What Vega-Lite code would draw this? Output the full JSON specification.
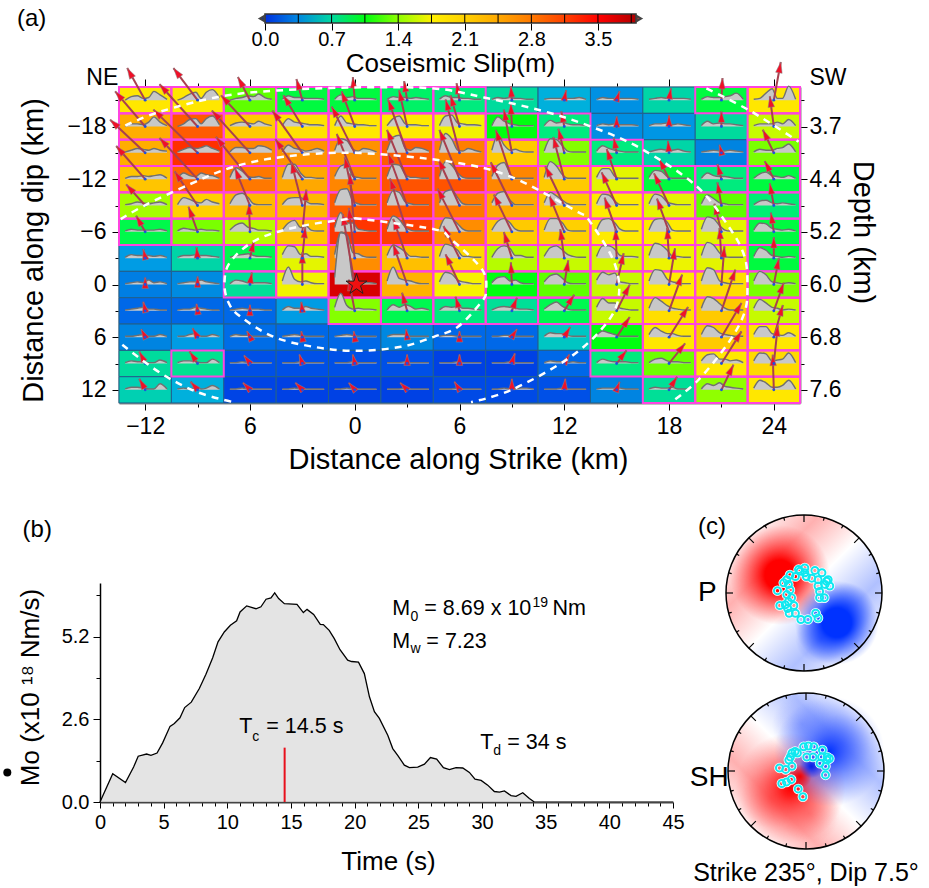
{"$schema":"https://vega.github.io/schema/vega-lite/v6.json","padding":0,"autosize":{"type":"none","contains":"padding"},"width":929,"height":888,"background":"white",
"config":{"view":{"stroke":null},"axis":{"labelFont":"Liberation Sans","titleFont":"Liberation Sans","labelColor":"#000","titleColor":"#000","tickColor":"#000","domainColor":"#000","grid":false,"titleFontWeight":"normal","labelFontSize":23,"titleFontSize":29,"titleBaseline":"middle","labelFlush":false},"text":{"font":"Liberation Sans","color":"#000"}},
"datasets":{
"cols":[{"s":-12,"xs":[-13.15,-12.8,-12.45,-12.1,-11.8,-11.5,-11.15,-10.75]},{"s":-9,"xs":[-10.15,-9.8,-9.45,-9.1,-8.8,-8.5,-8.15,-7.75]},{"s":-6,"xs":[-7.15,-6.8,-6.45,-6.1,-5.8,-5.5,-5.15,-4.75]},{"s":-3,"xs":[-4.15,-3.8,-3.45,-3.1,-2.8,-2.5,-2.15,-1.75]},{"s":0,"xs":[-1.15,-0.8,-0.45,-0.1,0.2,0.5,0.85,1.25]},{"s":3,"xs":[1.85,2.2,2.55,2.9,3.2,3.5,3.85,4.25]},{"s":6,"xs":[4.85,5.2,5.55,5.9,6.2,6.5,6.85,7.25]},{"s":9,"xs":[7.85,8.2,8.55,8.9,9.2,9.5,9.85,10.25]},{"s":12,"xs":[10.85,11.2,11.55,11.9,12.2,12.5,12.85,13.25]},{"s":15,"xs":[13.85,14.2,14.55,14.9,15.2,15.5,15.85,16.25]},{"s":18,"xs":[16.85,17.2,17.55,17.9,18.2,18.5,18.85,19.25]},{"s":21,"xs":[19.85,20.2,20.55,20.9,21.2,21.5,21.85,22.25]},{"s":24,"xs":[22.85,23.2,23.55,23.9,24.2,24.5,24.85,25.25]}],
"cells":[
{"s":-12,"d":-21,"v":1.85,"ax":-13.03,"ay":-24.66,"ang":-29,"y":[-21,-21.4,-21.5,-21.2,-21.3,-22,-21.6,-21.1]},
{"s":-9,"d":-21,"v":1.85,"ax":-10.38,"ay":-24.66,"ang":-37,"y":[-21,-21.3,-21.7,-21.9,-21.2,-21.9,-22.2,-21.3]},
{"s":-6,"d":-21,"v":1.2,"ax":-6.69,"ay":-23.63,"ang":-28,"y":[-21,-21.2,-21.3,-21.5,-21.4,-21.7,-21.3,-21.1]},
{"s":-3,"d":-21,"v":1,"ax":-3.34,"ay":-23.4,"ang":-16,"y":[-21.1,-21.5,-21.3,-21.3,-21.2,-21.2,-21.2,-21.1]},
{"s":0,"d":-21,"v":1,"ax":-0.11,"ay":-23.63,"ang":-5,"y":[-21.1,-21.6,-21.3,-21.4,-21.2,-21.2,-21.2,-21.1]},
{"s":3,"d":-21,"v":0.92,"ax":2.83,"ay":-23.18,"ang":-9,"y":[-21.1,-21.4,-21.3,-21.3,-21.2,-21.3,-21.2,-21.1]},
{"s":6,"d":-21,"v":0.85,"ax":5.83,"ay":-22.95,"ang":-10,"y":[-21.1,-21.5,-21.3,-21.3,-21.2,-21.2,-21.1,-21.1]},
{"s":9,"d":-21,"v":0.72,"ax":8.94,"ay":-22.6,"ang":-4,"y":[-21.1,-21.3,-21.2,-21.3,-21.2,-21.2,-21.1,-21.1]},
{"s":12,"d":-21,"v":0.5,"ax":12.11,"ay":-22.15,"ang":11,"y":[-21.1,-21.2,-21.2,-21.2,-21.2,-21.2,-21.3,-21.1]},
{"s":15,"d":-21,"v":0.38,"ax":15.17,"ay":-22.03,"ang":18,"y":[-21.1,-21.3,-21.2,-21.2,-21.2,-21.2,-21.2,-21.1]},
{"s":18,"d":-21,"v":0.68,"ax":18.11,"ay":-22.37,"ang":9,"y":[-21.1,-21.2,-21.3,-21.2,-21.2,-21.2,-21.2,-21.1]},
{"s":21,"d":-21,"v":1,"ax":21.06,"ay":-23.52,"ang":3,"y":[-21.1,-21.4,-21.3,-21.3,-21.4,-21.5,-21.8,-21.1]},
{"s":24,"d":-21,"v":1.85,"ax":24.4,"ay":-25.35,"ang":10,"y":[-21.1,-21.2,-21.8,-22.3,-21.2,-21.2,-22.6,-21.1]},
{"s":-12,"d":-18,"v":2.4,"ax":-13.72,"ay":-22,"ang":-41,"y":[-18,-18.3,-18.3,-18.2,-18.5,-19.1,-18.5,-18.1]},
{"s":-9,"d":-18,"v":3,"ax":-11.18,"ay":-22.81,"ang":-42,"y":[-18,-18.3,-18.8,-18.9,-18.3,-18.9,-19.2,-18.2]},
{"s":-6,"d":-18,"v":2.15,"ax":-7.66,"ay":-21.55,"ang":-43,"y":[-18.1,-18.4,-18.5,-18.4,-18.3,-18.6,-18.3,-18.1]},
{"s":-3,"d":-18,"v":1.9,"ax":-4.09,"ay":-21.55,"ang":-32,"y":[-18.1,-18.9,-18.5,-18.4,-18.3,-18.2,-18.2,-18.1]},
{"s":0,"d":-18,"v":1.85,"ax":-0.75,"ay":-22,"ang":-20,"y":[-18.1,-19.2,-18.4,-18.3,-18.2,-18.2,-18.1,-18.1]},
{"s":3,"d":-18,"v":1.8,"ax":2.54,"ay":-22.12,"ang":-13,"y":[-18.1,-18.9,-19.2,-18.3,-18.2,-18.2,-18.1,-18.1]},
{"s":6,"d":-18,"v":1.7,"ax":5.48,"ay":-21.55,"ang":-16,"y":[-18.1,-19.2,-19.3,-18.4,-18.3,-18.2,-18.2,-18.1]},
{"s":9,"d":-18,"v":1.05,"ax":8.94,"ay":-20.63,"ang":-2,"y":[-18.1,-19.1,-18.6,-18.3,-18.2,-18.1,-18.1,-18.1]},
{"s":12,"d":-18,"v":0.85,"ax":11.83,"ay":-19.72,"ang":-11,"y":[-18.1,-18.7,-18.4,-18.5,-18.3,-18.2,-18.2,-18.1]},
{"s":15,"d":-18,"v":0.37,"ax":15,"ay":-19.15,"ang":0,"y":[-18.1,-18.3,-18.2,-18.3,-18.2,-18.2,-18.2,-18.1]},
{"s":18,"d":-18,"v":0.4,"ax":18,"ay":-19.26,"ang":0,"y":[-18.1,-18.3,-18.3,-18.4,-18.2,-18.3,-18.2,-18.1]},
{"s":21,"d":-18,"v":0.72,"ax":21,"ay":-19.72,"ang":0,"y":[-18.1,-18.6,-18.3,-18.4,-18.3,-18.3,-18.2,-18.1]},
{"s":24,"d":-18,"v":1.55,"ax":23.77,"ay":-21.44,"ang":-8,"y":[-18.1,-18.3,-18.3,-18.3,-18.5,-18.3,-18.8,-18.1]},
{"s":-12,"d":-15,"v":2.4,"ax":-14.01,"ay":-18.78,"ang":-47,"y":[-15.1,-15.3,-15.5,-15.4,-15.3,-15.5,-15.3,-15.2]},
{"s":-9,"d":-15,"v":3.3,"ax":-11.53,"ay":-19.92,"ang":-46,"y":[-15.1,-15.4,-15.6,-15.5,-15.6,-15.8,-15.5,-15.2]},
{"s":-6,"d":-15,"v":2.7,"ax":-8.18,"ay":-19.81,"ang":-42,"y":[-15.1,-15.6,-15.6,-15.5,-15.5,-15.8,-15.7,-15.3]},
{"s":-3,"d":-15,"v":2.6,"ax":-4.72,"ay":-19.81,"ang":-36,"y":[-15.1,-15.9,-15.5,-15.4,-15.2,-15.3,-15.5,-15.2]},
{"s":0,"d":-15,"v":2.62,"ax":-1.32,"ay":-20.27,"ang":-27,"y":[-15.3,-16.6,-16.4,-15.4,-15.2,-15.5,-15.4,-15.1]},
{"s":3,"d":-15,"v":3,"ax":1.91,"ay":-21.07,"ang":-20,"y":[-15.3,-16.8,-17,-15.5,-15.3,-15.6,-15.5,-15.2]},
{"s":6,"d":-15,"v":2.75,"ax":5.2,"ay":-21.07,"ang":-15,"y":[-15.3,-17.2,-16.6,-15.3,-15.2,-15.5,-15.3,-15.1]},
{"s":9,"d":-15,"v":2.15,"ax":8.54,"ay":-19.92,"ang":-11,"y":[-15.3,-17,-15.9,-15.3,-15.4,-15.2,-15.1,-15.1]},
{"s":12,"d":-15,"v":1.35,"ax":11.66,"ay":-17.75,"ang":-14,"y":[-15.2,-16.6,-16.5,-15.8,-15.2,-15.1,-15.1,-15.1]},
{"s":15,"d":-15,"v":0.85,"ax":14.83,"ay":-16.72,"ang":-11,"y":[-15.2,-15.8,-15.5,-15.3,-15.2,-15.1,-15.1,-15.1]},
{"s":18,"d":-15,"v":0.68,"ax":17.94,"ay":-16.37,"ang":-5,"y":[-15.1,-15.3,-15.4,-15.3,-15.3,-15.4,-15.2,-15.1]},
{"s":21,"d":-15,"v":0.33,"ax":20.89,"ay":-15.92,"ang":-14,"y":[-15.1,-15.2,-15.3,-15.2,-15.2,-15.3,-15.2,-15.1]},
{"s":24,"d":-15,"v":1.3,"ax":23.37,"ay":-17.63,"ang":-26,"y":[-15.1,-15.4,-15.3,-15.3,-15.5,-15.6,-16,-15.1]},
{"s":-12,"d":-12,"v":2.2,"ax":-13.66,"ay":-15.78,"ang":-41,"y":[-12.1,-12.3,-12.3,-12.4,-12.3,-12.4,-12.5,-12.1]},
{"s":-9,"d":-12,"v":2.95,"ax":-11.18,"ay":-16.69,"ang":-43,"y":[-12.1,-12.7,-12.4,-12.3,-12.7,-12.5,-12.4,-12.1]},
{"s":-6,"d":-12,"v":2.8,"ax":-7.95,"ay":-16.81,"ang":-39,"y":[-12.2,-13.3,-12.9,-12.3,-12.2,-12.3,-12.1,-12.1]},
{"s":-3,"d":-12,"v":2.45,"ax":-4.55,"ay":-16.58,"ang":-34,"y":[-12.2,-13.7,-13.7,-12.7,-12.2,-12.2,-12.1,-12.1]},
{"s":0,"d":-12,"v":2.7,"ax":-1.03,"ay":-17.15,"ang":-22,"y":[-12.3,-13.5,-13.7,-12.3,-12.2,-12.1,-12.1,-12.1]},
{"s":3,"d":-12,"v":3.05,"ax":1.85,"ay":-17.61,"ang":-22,"y":[-12.3,-13.7,-13.6,-12.5,-12.2,-12.2,-12.1,-12.1]},
{"s":6,"d":-12,"v":3.05,"ax":4.85,"ay":-17.61,"ang":-22,"y":[-12.3,-14,-13.6,-12.7,-12.2,-12.1,-12.1,-12.1]},
{"s":9,"d":-12,"v":2.7,"ax":8.08,"ay":-17.61,"ang":-18,"y":[-12.3,-13.6,-13.9,-12.6,-12.1,-12.1,-12.1,-12.1]},
{"s":12,"d":-12,"v":2.15,"ax":11.37,"ay":-16.81,"ang":-15,"y":[-12.2,-14,-13.5,-12.5,-12.1,-12.1,-12.1,-12.1]},
{"s":15,"d":-12,"v":1.65,"ax":14.43,"ay":-15.44,"ang":-18,"y":[-12.2,-13.2,-13.2,-12.3,-12.1,-12.1,-12.1,-12.1]},
{"s":18,"d":-12,"v":1,"ax":17.43,"ay":-14.29,"ang":-27,"y":[-12.2,-13,-12.9,-12.3,-12.1,-12.1,-12.1,-12.1]},
{"s":21,"d":-12,"v":0.85,"ax":20.77,"ay":-13.72,"ang":-15,"y":[-12.1,-12.7,-12.4,-12.3,-12.3,-12.2,-12.1,-12.1]},
{"s":24,"d":-12,"v":1,"ax":23.48,"ay":-14.06,"ang":-27,"y":[-12.1,-12.6,-12.8,-12.4,-12.3,-12.2,-12.4,-12.1]},
{"s":-12,"d":-9,"v":1.45,"ax":-13.09,"ay":-11.4,"ang":-42,"y":[-9.1,-9.2,-9.4,-9.3,-9.2,-9.3,-9.4,-9.1]},
{"s":-9,"d":-9,"v":2.1,"ax":-10.32,"ay":-12.89,"ang":-34,"y":[-9.1,-9.9,-9.7,-9.4,-9.3,-9.7,-9.4,-9.2]},
{"s":-6,"d":-9,"v":2.3,"ax":-6.86,"ay":-13.24,"ang":-22,"y":[-9.2,-10.2,-10.4,-9.9,-9.2,-9.1,-9.1,-9.1]},
{"s":-3,"d":-9,"v":2.3,"ax":-3.63,"ay":-13.92,"ang":-14,"y":[-9.1,-9.8,-9.9,-9.9,-9.5,-9.2,-9.2,-9.1]},
{"s":0,"d":-9,"v":3,"ax":-0.57,"ay":-14.5,"ang":-12,"y":[-9.3,-10.8,-10.9,-9.5,-9.2,-9.1,-9.1,-9.1]},
{"s":3,"d":-9,"v":3.05,"ax":1.91,"ay":-14.95,"ang":-20,"y":[-9.3,-10.7,-10.5,-9.4,-9.2,-9.1,-9.1,-9.1]},
{"s":6,"d":-9,"v":2.8,"ax":4.79,"ay":-14.27,"ang":-25,"y":[-9.3,-10.6,-10.8,-9.9,-9.2,-9.1,-9.1,-9.1]},
{"s":9,"d":-9,"v":2.45,"ax":7.79,"ay":-13.92,"ang":-26,"y":[-9.3,-10.4,-10.6,-9.6,-9.1,-9.1,-9.1,-9.1]},
{"s":12,"d":-9,"v":2.15,"ax":10.91,"ay":-13.47,"ang":-26,"y":[-9.3,-10.5,-10.1,-9.6,-9.2,-9.1,-9.1,-9.1]},
{"s":15,"d":-9,"v":1.8,"ax":14.14,"ay":-12.78,"ang":-24,"y":[-9.2,-10.3,-10.2,-9.5,-9.1,-9.1,-9.1,-9.1]},
{"s":18,"d":-9,"v":1.65,"ax":17.14,"ay":-12.66,"ang":-25,"y":[-9.2,-10.3,-10.1,-9.4,-9.2,-9.1,-9.1,-9.1]},
{"s":21,"d":-9,"v":1.2,"ax":20.77,"ay":-11.63,"ang":-10,"y":[-9.2,-10.2,-9.8,-9.3,-9.2,-9.1,-9.1,-9.1]},
{"s":24,"d":-9,"v":0.88,"ax":23.77,"ay":-11.52,"ang":-10,"y":[-9.1,-9.5,-9.6,-9.3,-9.2,-9.3,-9.2,-9.1]},
{"s":-12,"d":-6,"v":0.98,"ax":-12.52,"ay":-7.83,"ang":-29,"y":[-6.1,-6.3,-6.2,-6.2,-6.2,-6.2,-6.3,-6.1]},
{"s":-9,"d":-6,"v":1.3,"ax":-9.52,"ay":-8.86,"ang":-20,"y":[-6.1,-6.4,-6.3,-6.2,-6.3,-6.2,-6.2,-6.1]},
{"s":-6,"d":-6,"v":1.5,"ax":-6.06,"ay":-9.2,"ang":-2,"y":[-6.2,-6.8,-7,-6.5,-6.4,-6.2,-6.2,-6.1]},
{"s":-3,"d":-6,"v":2.2,"ax":-2.77,"ay":-10.81,"ang":5,"y":[-6.2,-7,-7.3,-6.5,-6.7,-6.2,-6.1,-6.1]},
{"s":0,"d":-6,"v":3.25,"ax":-0.29,"ay":-12.64,"ang":-5,"y":[-6.5,-8.2,-7,-7,-6.3,-6.2,-6.1,-6.1]},
{"s":3,"d":-6,"v":3.15,"ax":2.02,"ay":-12.07,"ang":-18,"y":[-6.3,-7.8,-7.4,-6.5,-6.2,-6.1,-6.1,-6.1]},
{"s":6,"d":-6,"v":2.65,"ax":4.74,"ay":-10.92,"ang":-27,"y":[-6.3,-7.6,-7.5,-6.9,-6.3,-6.1,-6.1,-6.1]},
{"s":9,"d":-6,"v":2.15,"ax":7.97,"ay":-10.24,"ang":-26,"y":[-6.2,-7.2,-7.5,-7,-6.3,-6.1,-6.1,-6.1]},
{"s":12,"d":-6,"v":2.1,"ax":11.14,"ay":-10.12,"ang":-23,"y":[-6.2,-7.5,-7.5,-7,-6.2,-6.1,-6.1,-6.1]},
{"s":15,"d":-6,"v":1.8,"ax":14.31,"ay":-9.89,"ang":-19,"y":[-6.2,-7.4,-7.5,-7,-6.3,-6.1,-6.1,-6.1]},
{"s":18,"d":-6,"v":1.8,"ax":17.31,"ay":-9.78,"ang":-20,"y":[-6.2,-7.4,-7.5,-7.1,-6.2,-6.1,-6.1,-6.1]},
{"s":21,"d":-6,"v":1.65,"ax":20.6,"ay":-9.2,"ang":-14,"y":[-6.3,-7.7,-7.5,-6.7,-6.2,-6.1,-6.1,-6.1]},
{"s":24,"d":-6,"v":1,"ax":23.83,"ay":-8.18,"ang":-9,"y":[-6.2,-7,-6.9,-6.4,-6.3,-6.2,-6.3,-6.1]},
{"s":-12,"d":-3,"v":0.42,"ax":-12.11,"ay":-4.03,"ang":-13,"y":[-3.1,-3.4,-3.3,-3.3,-3.3,-3.2,-3.3,-3.1]},
{"s":-9,"d":-3,"v":0.68,"ax":-9.06,"ay":-4.26,"ang":-5,"y":[-3.1,-3.3,-3.3,-3.4,-3.3,-3.3,-3.2,-3.1]},
{"s":-6,"d":-3,"v":0.97,"ax":-5.77,"ay":-4.95,"ang":13,"y":[-3.1,-3.3,-3.4,-3.5,-3.3,-3.2,-3.2,-3.1]},
{"s":-3,"d":-3,"v":1.65,"ax":-2.83,"ay":-6.55,"ang":6,"y":[-3.4,-4.4,-4.3,-3.4,-3.5,-3.2,-3.2,-3.1]},
{"s":0,"d":-3,"v":2.65,"ax":-0.34,"ay":-8.73,"ang":-7,"y":[-3.4,-5.9,-5.7,-3.6,-3.5,-3.2,-3.1,-3.1]},
{"s":3,"d":-3,"v":2.25,"ax":2.2,"ay":-7.47,"ang":-20,"y":[-3.3,-4.5,-4.2,-3.7,-3.2,-3.2,-3.1,-3.1]},
{"s":6,"d":-3,"v":2,"ax":5.08,"ay":-6.66,"ang":-27,"y":[-3.2,-4.6,-4.4,-3.9,-3.2,-3.2,-3.1,-3.1]},
{"s":9,"d":-3,"v":1.5,"ax":8.54,"ay":-5.98,"ang":-17,"y":[-3.1,-4.1,-4.4,-4.1,-3.3,-3.3,-3.1,-3.1]},
{"s":12,"d":-3,"v":1.55,"ax":11.77,"ay":-6.32,"ang":-8,"y":[-3.2,-4.2,-4.4,-3.9,-3.4,-3.2,-3.1,-3.1]},
{"s":15,"d":-3,"v":1.6,"ax":14.94,"ay":-6.32,"ang":-2,"y":[-3.2,-4.4,-4.4,-4,-3.3,-3.2,-3.2,-3.1]},
{"s":18,"d":-3,"v":1.68,"ax":17.89,"ay":-6.44,"ang":-4,"y":[-3.3,-4.7,-4.5,-3.9,-3.2,-3.2,-3.1,-3.1]},
{"s":21,"d":-3,"v":1.65,"ax":20.89,"ay":-6.44,"ang":-4,"y":[-3.3,-4.8,-4.5,-3.6,-3.2,-3.1,-3.1,-3.1]},
{"s":24,"d":-3,"v":1,"ax":24,"ay":-5.4,"ang":0,"y":[-3.2,-4.2,-3.9,-3.3,-3.2,-3.1,-3.2,-3.1]},
{"s":-12,"d":0,"v":0.3,"ax":-12,"ay":-0.8,"ang":0,"y":[-0.1,-0.2,-0.3,-0.2,-0.5,-0.2,-0.3,-0.1]},
{"s":-9,"d":0,"v":0.36,"ax":-9,"ay":-0.92,"ang":0,"y":[-0.1,-0.2,-0.3,-0.3,-0.5,-0.3,-0.2,-0.1]},
{"s":-6,"d":0,"v":0.75,"ax":-5.89,"ay":-1.37,"ang":9,"y":[-0.1,-0.5,-0.4,-0.2,-0.2,-0.2,-0.2,-0.1]},
{"s":-3,"d":0,"v":1.7,"ax":-3,"ay":-3.66,"ang":0,"y":[-0.4,-2,-0.6,-0.3,-0.4,-0.2,-0.1,-0.1]},
{"s":0,"d":0,"v":3.7,"ax":-0.69,"ay":-8,"ang":-10,"y":[-0.8,-6,-5.5,-0.5,-0.3,-0.2,-0.2,-0.1]},
{"s":3,"d":0,"v":2.35,"ax":2.2,"ay":-4.58,"ang":-19,"y":[-0.4,-2,-0.7,-0.5,-0.4,-0.2,-0.1,-0.1]},
{"s":6,"d":0,"v":1.72,"ax":5.2,"ay":-3.44,"ang":-25,"y":[-0.3,-1.4,-1.2,-0.5,-0.3,-0.2,-0.1,-0.1]},
{"s":9,"d":0,"v":1.05,"ax":8.94,"ay":-2.52,"ang":-3,"y":[-0.2,-0.8,-0.9,-0.4,-0.5,-0.2,-0.1,-0.1]},
{"s":12,"d":0,"v":1.2,"ax":12.23,"ay":-2.75,"ang":9,"y":[-0.3,-1,-1.2,-0.7,-0.2,-0.1,-0.1,-0.1]},
{"s":15,"d":0,"v":1.55,"ax":15.4,"ay":-3.55,"ang":13,"y":[-0.5,-1.4,-1.1,-1.3,-0.3,-0.2,-0.1,-0.1]},
{"s":18,"d":0,"v":1.8,"ax":18.34,"ay":-4.12,"ang":9,"y":[-0.4,-1.7,-1.6,-0.6,-0.3,-0.2,-0.1,-0.1]},
{"s":21,"d":0,"v":1.95,"ax":21.17,"ay":-4.35,"ang":5,"y":[-0.4,-1.9,-1.7,-0.4,-0.2,-0.1,-0.1,-0.1]},
{"s":24,"d":0,"v":1.3,"ax":24.29,"ay":-2.98,"ang":11,"y":[-0.4,-1.5,-1.1,-0.3,-0.2,-0.1,-0.2,-0.1]},
{"s":-12,"d":3,"v":0.2,"ax":-12.11,"ay":1.97,"ang":-13,"y":[2.9,2.8,2.7,2.6,2.8,2.8,2.9,2.9]},
{"s":-9,"d":3,"v":0.2,"ax":-9.06,"ay":2.2,"ang":-8,"y":[2.9,2.8,2.8,2.6,2.7,2.8,2.9,2.9]},
{"s":-6,"d":3,"v":0.2,"ax":-6,"ay":2.31,"ang":0,"y":[2.9,2.8,2.7,2.8,2.8,2.8,2.9,2.9]},
{"s":-3,"d":3,"v":0.42,"ax":-3.06,"ay":1.97,"ang":-6,"y":[2.9,2.5,2.7,2.7,2.5,2.7,2.8,2.9]},
{"s":0,"d":3,"v":1.35,"ax":-0.34,"ay":-0.55,"ang":-11,"y":[2.6,1,2.4,2.8,2.7,2.8,2.8,2.9]},
{"s":3,"d":3,"v":0.97,"ax":2.71,"ay":0.94,"ang":-15,"y":[2.9,2.3,2.6,2.3,2.5,2.8,2.7,2.9]},
{"s":6,"d":3,"v":0.85,"ax":5.77,"ay":1.4,"ang":-16,"y":[2.9,2.5,2.6,2.5,2.7,2.7,2.8,2.9]},
{"s":9,"d":3,"v":0.75,"ax":9.29,"ay":1.51,"ang":21,"y":[2.9,2.6,2.5,2.6,2.7,2.8,2.8,2.9]},
{"s":12,"d":3,"v":0.97,"ax":12.57,"ay":1.17,"ang":32,"y":[2.8,2.3,2,2.5,2.8,2.9,2.9,2.9]},
{"s":15,"d":3,"v":1.55,"ax":15.75,"ay":0.02,"ang":27,"y":[2.6,1.6,2.1,2.1,2.7,2.8,2.9,2.9]},
{"s":18,"d":3,"v":1.95,"ax":18.75,"ay":-1.12,"ang":20,"y":[2.7,1.5,1.9,2.4,2.7,2.8,2.9,2.9]},
{"s":21,"d":3,"v":2.15,"ax":21.8,"ay":-1.69,"ang":19,"y":[2.7,1.4,1.6,2.2,2.7,2.9,2.9,2.9]},
{"s":24,"d":3,"v":1.55,"ax":24.57,"ay":-0.2,"ang":20,"y":[2.7,1.7,2.1,2.6,2.7,2.9,2.8,2.9]},
{"s":-12,"d":6,"v":0.33,"ax":-12.23,"ay":5.08,"ang":-27,"y":[5.9,5.9,5.8,5.7,5.9,5.9,5.7,5.9]},
{"s":-9,"d":6,"v":0.42,"ax":-9.29,"ay":4.97,"ang":-29,"y":[5.9,5.9,5.7,5.6,5.9,5.9,5.7,5.9]},
{"s":-6,"d":6,"v":0.22,"ax":-6.17,"ay":5.31,"ang":-27,"y":[5.9,5.7,5.8,5.8,5.9,5.9,5.9,5.9]},
{"s":-3,"d":6,"v":0.2,"ax":-3.06,"ay":5.31,"ang":-9,"y":[5.9,5.8,5.7,5.8,5.9,5.9,5.9,5.9]},
{"s":0,"d":6,"v":0.2,"ax":-0.06,"ay":5.31,"ang":-9,"y":[5.9,5.8,5.7,5.8,5.9,5.9,5.9,5.9]},
{"s":3,"d":6,"v":0.35,"ax":2.94,"ay":5.08,"ang":-7,"y":[5.9,5.7,5.7,5.7,5.9,5.9,5.9,5.9]},
{"s":6,"d":6,"v":0.2,"ax":6,"ay":5.31,"ang":0,"y":[5.9,5.8,5.8,5.9,5.9,5.9,5.9,5.9]},
{"s":9,"d":6,"v":0.2,"ax":9.29,"ay":5.08,"ang":32,"y":[5.9,5.9,5.8,5.8,5.9,5.9,5.9,5.9]},
{"s":12,"d":6,"v":0.6,"ax":12.34,"ay":4.85,"ang":31,"y":[5.9,5.5,5.6,5.6,5.8,5.9,5.9,5.9]},
{"s":15,"d":6,"v":1.05,"ax":15.75,"ay":3.71,"ang":33,"y":[5.8,5.3,5.5,5.7,5.9,5.9,5.9,5.9]},
{"s":18,"d":6,"v":1.85,"ax":19.09,"ay":2.56,"ang":32,"y":[5.7,4.9,5.3,5.6,5.6,5.8,5.9,5.9]},
{"s":21,"d":6,"v":2.15,"ax":22.15,"ay":2.11,"ang":30,"y":[5.7,4.7,4.9,5.5,5.7,5.8,5.9,5.9]},
{"s":24,"d":6,"v":1.85,"ax":24.52,"ay":2.34,"ang":16,"y":[5.7,4.8,4.8,5.6,5.7,5.8,5.5,5.9]},
{"s":-12,"d":9,"v":0.72,"ax":-12.34,"ay":7.63,"ang":-27,"y":[8.9,8.7,8.8,8.8,8.9,8.9,8.6,8.9]},
{"s":-9,"d":9,"v":0.78,"ax":-9.46,"ay":7.63,"ang":-34,"y":[8.9,8.7,8.7,8.8,8.9,8.9,8.5,8.9]},
{"s":-6,"d":9,"v":0.1,"ax":-6.34,"ay":8.08,"ang":-37,"y":[8.9,8.9,8.8,8.9,8.9,8.9,8.9,8.9]},
{"s":-3,"d":9,"v":0.1,"ax":-3.17,"ay":7.97,"ang":-18,"y":[8.9,8.9,8.9,8.8,8.9,8.9,8.9,8.9]},
{"s":0,"d":9,"v":0.1,"ax":-0.11,"ay":7.97,"ang":-12,"y":[8.9,8.9,8.9,8.8,8.9,8.9,8.9,8.9]},
{"s":3,"d":9,"v":0.1,"ax":3,"ay":7.97,"ang":0,"y":[8.9,8.9,8.9,8.8,8.9,8.9,8.9,8.9]},
{"s":6,"d":9,"v":0.05,"ax":6,"ay":7.97,"ang":0,"y":[8.9,8.9,8.9,8.8,8.9,8.9,8.9,8.9]},
{"s":9,"d":9,"v":0.05,"ax":9.17,"ay":7.85,"ang":17,"y":[8.9,8.9,8.9,8.8,8.9,8.9,8.9,8.9]},
{"s":12,"d":9,"v":0.2,"ax":12.29,"ay":7.97,"ang":29,"y":[8.9,8.7,8.8,8.8,8.9,8.8,8.9,8.9]},
{"s":15,"d":9,"v":0.85,"ax":15.57,"ay":7.51,"ang":38,"y":[8.9,8.5,8.7,8.8,8.8,8.8,8.9,8.9]},
{"s":18,"d":9,"v":1.25,"ax":18.92,"ay":6.71,"ang":39,"y":[8.9,8.5,8.4,8.7,8.8,8.8,8.9,8.9]},
{"s":21,"d":9,"v":1.85,"ax":22.15,"ay":5.34,"ang":32,"y":[8.7,8,7.9,8.5,8.5,8.7,8.6,8.9]},
{"s":24,"d":9,"v":2,"ax":24.23,"ay":4.65,"ang":6,"y":[8.7,7.8,7.9,8.7,8.6,8.5,7.8,8.9]},
{"s":-12,"d":12,"v":0.65,"ax":-12.34,"ay":10.74,"ang":-29,"y":[11.9,11.7,11.7,11.8,11.9,11.9,11.3,11.9]},
{"s":-9,"d":12,"v":0.5,"ax":-9.4,"ay":11.08,"ang":-41,"y":[11.9,11.8,11.9,11.8,11.9,11.8,11.5,11.9]},
{"s":-6,"d":12,"v":0.06,"ax":-6.4,"ay":11.2,"ang":-45,"y":[11.9,11.9,11.8,11.9,11.9,11.9,11.9,11.9]},
{"s":-3,"d":12,"v":0.05,"ax":-3.4,"ay":11.2,"ang":-45,"y":[11.9,11.9,11.8,11.9,11.9,11.9,11.9,11.9]},
{"s":0,"d":12,"v":0.05,"ax":-0.34,"ay":11.2,"ang":-40,"y":[11.9,11.9,11.8,11.9,11.9,11.9,11.9,11.9]},
{"s":3,"d":12,"v":0.05,"ax":2.6,"ay":11.2,"ang":-45,"y":[11.9,11.9,11.9,11.8,11.9,11.9,11.9,11.9]},
{"s":6,"d":12,"v":0.08,"ax":5.71,"ay":11.08,"ang":-32,"y":[11.9,11.9,11.9,11.8,11.9,11.9,11.9,11.9]},
{"s":9,"d":12,"v":0.08,"ax":9,"ay":10.74,"ang":0,"y":[11.9,11.9,11.8,11.9,11.9,11.8,11.8,11.9]},
{"s":12,"d":12,"v":0.1,"ax":12.06,"ay":10.74,"ang":5,"y":[11.9,11.9,11.9,11.8,11.9,11.9,11.9,11.9]},
{"s":15,"d":12,"v":0.33,"ax":15.17,"ay":11.08,"ang":21,"y":[11.9,11.8,11.8,11.8,11.8,11.9,11.9,11.9]},
{"s":18,"d":12,"v":0.75,"ax":18.46,"ay":10.51,"ang":32,"y":[11.9,11.7,11.8,11.8,11.7,11.9,11.9,11.9]},
{"s":21,"d":12,"v":1.4,"ax":21.69,"ay":9.14,"ang":26,"y":[11.9,11.3,11.5,11.2,11.6,11.7,11.8,11.9]},
{"s":24,"d":12,"v":1.85,"ax":23.94,"ay":8,"ang":-2,"y":[11.8,10.9,11.2,11.7,11.7,11.5,10.9,11.9]}
],
"contours":[
{"c":"a","i":1,"x":0,"y":-7.56},{"c":"a","i":2,"x":4.53,"y":-6.3},{"c":"a","i":3,"x":5.51,"y":-5.15},{"c":"a","i":4,"x":7.29,"y":-1.72},{"c":"a","i":5,"x":7.52,"y":0.8},{"c":"a","i":6,"x":7.23,"y":2.06},{"c":"a","i":7,"x":5.91,"y":4.81},{"c":"a","i":8,"x":4.53,"y":5.96},{"c":"a","i":9,"x":2.64,"y":7.1},{"c":"a","i":10,"x":0,"y":7.56},{"c":"a","i":11,"x":-2.35,"y":7.1},{"c":"a","i":12,"x":-4.65,"y":5.96},{"c":"a","i":13,"x":-6.54,"y":3.67},{"c":"a","i":14,"x":-7.23,"y":2.06},{"c":"a","i":15,"x":-7.46,"y":-0.23},{"c":"a","i":16,"x":-7.11,"y":-2.63},{"c":"a","i":17,"x":-5.57,"y":-5.15},{"c":"a","i":18,"x":-3.1,"y":-6.64},{"c":"a","i":19,"x":0,"y":-7.56},
{"c":"b","i":1,"x":-13.4,"y":-7.45},{"c":"b","i":2,"x":-12.1,"y":-8.93},{"c":"b","i":3,"x":-9.41,"y":-11.45},{"c":"b","i":4,"x":-6.94,"y":-13.4},{"c":"b","i":5,"x":-4.07,"y":-14.55},{"c":"b","i":6,"x":0,"y":-15},{"c":"b","i":7,"x":5.51,"y":-13.97},{"c":"b","i":8,"x":8.95,"y":-12.26},{"c":"b","i":9,"x":12.79,"y":-8.25},{"c":"b","i":10,"x":13.37,"y":-7.45},{"c":"b","i":11,"x":14.86,"y":-2.52},{"c":"b","i":12,"x":15.09,"y":1.72},{"c":"b","i":13,"x":14.11,"y":5.15},{"c":"b","i":14,"x":12.11,"y":8.59},{"c":"b","i":15,"x":8.95,"y":12.03},{"c":"b","i":16,"x":6.66,"y":13.4},
{"c":"c","i":1,"x":-13.31,"y":6.87},{"c":"c","i":2,"x":-11.13,"y":10.08},{"c":"c","i":3,"x":-9.01,"y":12.26},{"c":"c","i":4,"x":-6.94,"y":13.4},
{"c":"d","i":1,"x":-13.14,"y":-18.1},{"c":"d","i":2,"x":-11.13,"y":-19.7},{"c":"d","i":3,"x":-7.69,"y":-21.42},{"c":"d","i":4,"x":-4.42,"y":-22.1},{"c":"d","i":5,"x":0,"y":-22.45},{"c":"d","i":6,"x":4.53,"y":-22.34},{"c":"d","i":7,"x":7.4,"y":-21.3},{"c":"d","i":8,"x":10.67,"y":-19.82},{"c":"d","i":9,"x":13.54,"y":-17.98},{"c":"d","i":10,"x":16.41,"y":-15.46},{"c":"d","i":11,"x":19.56,"y":-11.23},{"c":"d","i":12,"x":21.4,"y":-6.64},{"c":"d","i":13,"x":22.32,"y":-3.21},{"c":"d","i":14,"x":22.49,"y":0.23},{"c":"d","i":15,"x":22.32,"y":3.21},{"c":"d","i":16,"x":21.4,"y":6.64},{"c":"d","i":17,"x":19.68,"y":10.88},{"c":"d","i":18,"x":18.13,"y":13.4},
{"c":"e","i":1,"x":20.14,"y":-22.34},{"c":"e","i":2,"x":22.72,"y":-19.7},{"c":"e","i":3,"x":25.42,"y":-16.27}],
"stf":[{"t":0,"m":0},{"t":1,"m":0.89},{"t":2,"m":0.61},{"t":2.64,"m":1.1},{"t":3,"m":1.44},{"t":3.66,"m":1.51},{"t":4,"m":1.47},{"t":4.48,"m":1.54},{"t":4.92,"m":1.86},{"t":5.5,"m":2.38},{"t":5.84,"m":2.47},{"t":6.28,"m":2.65},{"t":6.65,"m":2.97},{"t":7.17,"m":3.14},{"t":7.8,"m":3.57},{"t":8.32,"m":4.02},{"t":8.85,"m":4.54},{"t":9.27,"m":5.04},{"t":9.76,"m":5.35},{"t":10.24,"m":5.56},{"t":10.73,"m":5.7},{"t":11,"m":5.98},{"t":11.52,"m":6.17},{"t":12.25,"m":6.08},{"t":12.64,"m":6.14},{"t":13.04,"m":6.38},{"t":13.43,"m":6.42},{"t":13.72,"m":6.58},{"t":14.03,"m":6.4},{"t":14.48,"m":6.24},{"t":15.47,"m":6.22},{"t":15.97,"m":5.96},{"t":16.26,"m":6.06},{"t":16.78,"m":5.9},{"t":17.3,"m":5.59},{"t":17.54,"m":5.58},{"t":18,"m":5.4},{"t":18.4,"m":5.14},{"t":18.85,"m":4.79},{"t":19.45,"m":4.46},{"t":19.76,"m":4.42},{"t":20.3,"m":4.4},{"t":20.76,"m":4.04},{"t":21.16,"m":3.31},{"t":21.55,"m":2.84},{"t":21.94,"m":2.63},{"t":22.6,"m":2.1},{"t":22.99,"m":1.68},{"t":23.38,"m":1.47},{"t":23.9,"m":1.16},{"t":24.3,"m":1.08},{"t":24.95,"m":1.1},{"t":25.48,"m":1.19},{"t":25.95,"m":1.4},{"t":26.44,"m":1.35},{"t":26.97,"m":1.08},{"t":27.44,"m":1.02},{"t":27.96,"m":1.08},{"t":28.49,"m":1.07},{"t":29.01,"m":0.93},{"t":29.45,"m":0.72},{"t":29.93,"m":0.68},{"t":30.45,"m":0.53},{"t":30.97,"m":0.33},{"t":31.37,"m":0.31},{"t":31.76,"m":0.35},{"t":32.28,"m":0.2},{"t":32.67,"m":0.18},{"t":33.2,"m":0.29},{"t":33.72,"m":0.11},{"t":34.11,"m":0}],
"ticks":[{"x":1,"y":0,"x2":0.91,"y2":0},{"x":0.966,"y":0.259,"x2":0.927,"y2":0.249},{"x":0.866,"y":0.5,"x2":0.831,"y2":0.48},{"x":0.707,"y":0.707,"x2":0.643,"y2":0.643},{"x":0.5,"y":0.866,"x2":0.48,"y2":0.831},{"x":0.259,"y":0.966,"x2":0.249,"y2":0.927},{"x":0,"y":1,"x2":0,"y2":0.91},{"x":-0.259,"y":0.966,"x2":-0.249,"y2":0.927},{"x":-0.5,"y":0.866,"x2":-0.48,"y2":0.831},{"x":-0.707,"y":0.707,"x2":-0.643,"y2":0.643},{"x":-0.866,"y":0.5,"x2":-0.831,"y2":0.48},{"x":-0.966,"y":0.259,"x2":-0.927,"y2":0.249},{"x":-1,"y":0,"x2":-0.91,"y2":0},{"x":-0.966,"y":-0.259,"x2":-0.927,"y2":-0.249},{"x":-0.866,"y":-0.5,"x2":-0.831,"y2":-0.48},{"x":-0.707,"y":-0.707,"x2":-0.643,"y2":-0.643},{"x":-0.5,"y":-0.866,"x2":-0.48,"y2":-0.831},{"x":-0.259,"y":-0.966,"x2":-0.249,"y2":-0.927},{"x":0,"y":-1,"x2":0,"y2":-0.91},{"x":0.259,"y":-0.966,"x2":0.249,"y2":-0.927},{"x":0.5,"y":-0.866,"x2":0.48,"y2":-0.831},{"x":0.707,"y":-0.707,"x2":0.643,"y2":-0.643},{"x":0.866,"y":-0.5,"x2":0.831,"y2":-0.48},{"x":0.966,"y":-0.259,"x2":0.927,"y2":-0.249}],
"pobs":[{"x":-0.34,"y":0.03},{"x":-0.31,"y":-0.16},{"x":-0.24,"y":-0.15},{"x":-0.21,"y":-0.2},{"x":-0.13,"y":-0.16},{"x":-0.19,"y":-0.26},{"x":-0.11,"y":-0.26},{"x":-0.04,"y":-0.34},{"x":0.05,"y":-0.34},{"x":0.15,"y":-0.26},{"x":0.18,"y":-0.32},{"x":0.2,"y":-0.06},{"x":0.26,"y":-0.06},{"x":0.2,"y":0.02},{"x":0.18,"y":0.09},{"x":0.33,"y":0.09},{"x":0.29,"y":0.15},{"x":0.23,"y":0.26},{"x":0.14,"y":0.29},{"x":0.01,"y":0.32},{"x":-0.05,"y":0.28},{"x":0.03,"y":0.21},{"x":0.1,"y":0.19},{"x":0.18,"y":0.17},{"x":0.27,"y":0.11},{"x":0.31,"y":0.17},{"x":-0.18,"y":0.23},{"x":-0.11,"y":0.21},{"x":-0.22,"y":0.17},{"x":-0.2,"y":0.11},{"x":-0.26,"y":0.13},{"x":-0.18,"y":0.04},{"x":-0.22,"y":-0.02},{"x":-0.16,"y":-0.06},{"x":-0.2,"y":-0.11},{"x":-0.07,"y":0.3},{"x":0.01,"y":0.26}],
"shobs":[{"x":-0.34,"y":0.04},{"x":-0.26,"y":0.02},{"x":-0.18,"y":0.06},{"x":-0.22,"y":0.14},{"x":-0.18,"y":0.23},{"x":-0.11,"y":0.23},{"x":-0.2,"y":0.18},{"x":-0.03,"y":0.31},{"x":0.03,"y":0.32},{"x":0.1,"y":0.31},{"x":0.01,"y":0.18},{"x":0.09,"y":0.18},{"x":0.21,"y":0.27},{"x":0.27,"y":0.18},{"x":0.2,"y":0.18},{"x":0.3,"y":0.16},{"x":0.18,"y":0.1},{"x":0.25,"y":0.06},{"x":0.27,"y":0.14},{"x":0.25,"y":-0.05},{"x":-0.31,"y":-0.16},{"x":-0.25,"y":-0.14},{"x":-0.19,"y":-0.11},{"x":-0.1,"y":-0.23},{"x":-0.04,"y":-0.33},{"x":-0.14,"y":0.25}]
},
"resolve":{"scale":{"x":"independent","y":"independent"},"axis":{"x":"independent","y":"independent"}},
"layer":[
{"data":{"values":[{"a":0,"b":3.9,"lo":0,"hi":1}]},"resolve":{"axis":{"x":"independent","y":"independent"}},"layer":[
{"mark":{"type":"rect","stroke":"#333","strokeWidth":1.5,"fill":{"gradient":"linear","x1":0,"y1":0,"x2":1,"y2":0,"stops":[{"offset":0,"color":"#0030e0"},{"offset":0.09,"color":"#0088e0"},{"offset":0.18,"color":"#00d8a0"},{"offset":0.27,"color":"#00ff10"},{"offset":0.36,"color":"#90ff00"},{"offset":0.45,"color":"#fff000"},{"offset":0.54,"color":"#ffd000"},{"offset":0.63,"color":"#ffa800"},{"offset":0.72,"color":"#ff7800"},{"offset":0.81,"color":"#ff4000"},{"offset":0.9,"color":"#ff0000"},{"offset":1,"color":"#b00000"}]}},
"encoding":{"x":{"field":"a","type":"quantitative","scale":{"domain":[0,3.9],"range":[265,636],"nice":false,"zero":false},"axis":{"orient":"bottom","offset":-865,"values":[0,0.7,1.4,2.1,2.8,3.5],"format":".1f","tickSize":7,"labelPadding":-1,"labelFontSize":20,"domain":false,"title":"Coseismic Slip(m)","titleFontSize":26,"titleX":450,"titleY":40}},"x2":{"field":"b"},"y":{"field":"lo","type":"quantitative","axis":null,"scale":{"domain":[0,1],"range":[23,14],"nice":false,"zero":false}},"y2":{"field":"hi"}}},
{"data":{"values":[{"v":0.35,"lo":0,"hi":1},{"v":0.7,"lo":0,"hi":1},{"v":1.05,"lo":0,"hi":1},{"v":1.4,"lo":0,"hi":1},{"v":1.75,"lo":0,"hi":1},{"v":2.1,"lo":0,"hi":1},{"v":2.45,"lo":0,"hi":1},{"v":2.8,"lo":0,"hi":1},{"v":3.15,"lo":0,"hi":1},{"v":3.5,"lo":0,"hi":1},{"v":3.85,"lo":0,"hi":1}]},"mark":{"type":"rule","color":"#000","strokeWidth":1},"encoding":{"x":{"field":"v","type":"quantitative","axis":null},"y":{"field":"lo","type":"quantitative","axis":null},"y2":{"field":"hi"}}},
{"data":{"values":[{"v":-0.03,"h":0.5}]},"mark":{"type":"point","shape":"triangle-left","filled":true,"fill":"#1030a0","stroke":"#444","size":30,"opacity":1},"encoding":{"x":{"field":"v","type":"quantitative","axis":null},"y":{"field":"h","type":"quantitative","axis":null}}},
{"data":{"values":[{"v":3.93,"h":0.5}]},"mark":{"type":"point","shape":"triangle-right","filled":true,"fill":"#b04040","stroke":"#444","size":30,"opacity":1},"encoding":{"x":{"field":"v","type":"quantitative","axis":null},"y":{"field":"h","type":"quantitative","axis":null}}}
]},
{"data":{"name":"cells"},"resolve":{"axis":{"x":"independent","y":"independent"}},"layer":[
{"mark":{"type":"rect","width":52.4,"height":26.2,"stroke":"#20608c","strokeWidth":1},
"encoding":{"x":{"field":"s","type":"quantitative","scale":{"domain":[-13.5,25.5],"range":[119,800],"nice":false,"zero":false},"axis":{"orient":"bottom","offset":-485,"domainColor":"#888","domainWidth":2,"values":[-12,-9,-6,-3,0,3,6,9,12,15,18,21,24],"tickSize":{"condition":{"test":"datum.value % 6 == 0","value":7},"value":4},"labelPadding":5,"labelExpr":"datum.value==-12?'−12':datum.value==-6?'6':(datum.value%6==0?''+datum.value:'')","title":"Distance along Strike (km)","titleX":458,"titleY":56}},
"y":{"field":"d","type":"quantitative","scale":{"domain":[13.5,-22.5],"range":[403,87],"nice":false,"zero":false},"axis":{"orient":"left","offset":-119,"domainColor":"#888","domainWidth":2,"values":[-21,-18,-15,-12,-9,-6,-3,0,3,6,9,12],"tickSize":{"condition":{"test":"datum.value % 6 == 0","value":7},"value":4},"labelPadding":6,"labelExpr":"datum.value%6==0?replace(''+datum.value,'-','−'):''","title":"Distance along dip (km)","titleX":-86,"titleY":250}},
"color":{"field":"v","type":"quantitative","scale":{"domain":[0,0.35,0.7,1.05,1.4,1.75,2.1,2.45,2.8,3.15,3.5,3.9],"range":["#0030e0","#0088e0","#00d8a0","#00ff10","#90ff00","#fff000","#ffd000","#ffa800","#ff7800","#ff4000","#ff0000","#b00000"]},"legend":null}}},
{"transform":[{"filter":"datum.v>=0.74"}],"mark":{"type":"rect","width":52.4,"height":26.2,"fillOpacity":0,"stroke":"#ff44e0","strokeWidth":2},"encoding":{"x":{"field":"s","type":"quantitative","axis":null},"y":{"field":"d","type":"quantitative","axis":null}}},
{"transform":[{"lookup":"s","from":{"data":{"name":"cols"},"key":"s","fields":["xs"]}},{"flatten":["xs","y"]}],"mark":{"type":"area","color":"#c8c8c8","interpolate":"monotone"},"encoding":{"x":{"field":"xs","type":"quantitative","axis":null},"y":{"field":"y","type":"quantitative","axis":null},"y2":{"field":"d"},"detail":[{"field":"s"},{"field":"d"}]}},
{"transform":[{"lookup":"s","from":{"data":{"name":"cols"},"key":"s","fields":["xs"]}},{"flatten":["xs","y"]}],"mark":{"type":"line","color":"#707070","strokeWidth":1.4,"interpolate":"monotone"},"encoding":{"x":{"field":"xs","type":"quantitative","axis":null},"y":{"field":"y","type":"quantitative","axis":null},"detail":[{"field":"s"},{"field":"d"}]}},
{"mark":{"type":"rule","color":"#a8404f","strokeWidth":2},"encoding":{"x":{"field":"s","type":"quantitative","axis":null},"y":{"field":"d","type":"quantitative","axis":null},"x2":{"field":"ax"},"y2":{"field":"ay"}}},
{"mark":{"type":"point","shape":"M0,0L0.6,2L-0.6,2Z","filled":true,"fill":"#f01028","stroke":"#888","strokeWidth":0.5,"size":120,"opacity":1},"encoding":{"x":{"field":"ax","type":"quantitative","axis":null},"y":{"field":"ay","type":"quantitative","axis":null},"angle":{"field":"ang","type":"quantitative","scale":null}}},
{"mark":{"type":"point","filled":true,"color":"#2050e0","size":8,"opacity":1},"encoding":{"x":{"field":"s","type":"quantitative","axis":null},"y":{"field":"d","type":"quantitative","axis":null}}},
{"data":{"name":"contours"},"mark":{"type":"line","color":"#fff","strokeWidth":2.5,"strokeDash":[7,6],"interpolate":"cardinal"},"encoding":{"x":{"field":"x","type":"quantitative","axis":null},"y":{"field":"y","type":"quantitative","axis":null},"detail":{"field":"c"},"order":{"field":"i"}}},
{"data":{"values":[{"x":0.1,"y":0}]},"mark":{"type":"point","filled":true,"fill":"#f01010","stroke":"#222","strokeWidth":1,"size":484,"opacity":1,"shape":"M0,-1L0.224,-0.309L0.951,-0.309L0.363,0.118L0.588,0.809L0,0.382L-0.588,0.809L-0.363,0.118L-0.951,-0.309L-0.224,-0.309Z"},"encoding":{"x":{"field":"x","type":"quantitative","axis":null},"y":{"field":"y","type":"quantitative","axis":null}}},
{"data":{"values":[{"x":-14.46,"y":-23.5,"t":"NE"},{"x":27.1,"y":-23.5,"t":"SW"}]},"mark":{"type":"text","fontSize":23,"align":"center"},"encoding":{"x":{"field":"x","type":"quantitative","axis":null},"y":{"field":"y","type":"quantitative","axis":null},"text":{"field":"t"}}},
{"data":{"values":[{"x":-18.5,"y":-30.2,"t":"(a)"}]},"mark":{"type":"text","fontSize":24,"align":"center"},"encoding":{"x":{"field":"x","type":"quantitative","axis":null},"y":{"field":"y","type":"quantitative","axis":null},"text":{"field":"t"}}},
{"data":{"values":[{"s":0}]},"mark":{"type":"rule","opacity":0},"encoding":{"x":{"field":"s","type":"quantitative","axis":{"orient":"top","offset":-87,"domainColor":"#888","domainWidth":2,"values":[-12,-9,-6,-3,0,3,6,9,12,15,18,21,24],"tickSize":{"condition":{"test":"datum.value % 6 == 0","value":8},"value":4},"labels":false,"title":null}}}},
{"data":{"values":[{"d":0}]},"mark":{"type":"rule","opacity":0},"encoding":{"y":{"field":"d","type":"quantitative","axis":{"orient":"right","offset":-129,"domainColor":"#888","domainWidth":2,"values":[-21,-18,-15,-12,-9,-6,-3,0,3,6,9,12],"tickSize":{"condition":{"test":"datum.value % 6 == 0","value":7},"value":4},"labelPadding":2,"labelExpr":"datum.value==-18?'3.7':datum.value==-12?'4.4':datum.value==-6?'5.2':datum.value==0?'6.0':datum.value==6?'6.8':datum.value==12?'7.6':''","title":"Depth (km)","titleAngle":90,"titleX":62,"titleY":232}}}}
]},
{"resolve":{"axis":{"x":"independent","y":"independent"}},"layer":[
{"data":{"name":"stf"},"mark":{"type":"area","color":"#d9d9d9","line":{"color":"#000","strokeWidth":1.3}},
"encoding":{"x":{"field":"t","type":"quantitative","scale":{"domain":[0,45],"range":[100,673],"nice":false,"zero":false},"axis":{"orient":"bottom","offset":-86,"domainColor":"#444","domainWidth":2,"values":[0,1,2,3,4,5,6,7,8,9,10,11,12,13,14,15,16,17,18,19,20,21,22,23,24,25,26,27,28,29,30,31,32,33,34,35,36,37,38,39,40,41,42,43,44,45],"tickSize":{"condition":{"test":"datum.value % 5 == 0","value":6},"value":4},"labelPadding":4,"labelFontSize":20,"labelExpr":"datum.value%5==0?''+datum.value:''","title":"Time (s)","titleFontSize":26,"titleX":388,"titleY":59}},
"y":{"field":"m","type":"quantitative","scale":{"domain":[0,6.89],"range":[802,583],"nice":false,"zero":false},"axis":{"orient":"left","offset":-100,"domainWidth":1.5,"values":[0,1.3,2.6,3.9,5.2,6.5],"tickSize":{"condition":{"test":"datum.value==0||datum.value==2.6||datum.value==5.2","value":7},"value":4},"labelPadding":4,"labelFontSize":20,"labelExpr":"datum.value==0||datum.value==2.6||datum.value==5.2?format(datum.value,'.1f'):''","title":"Mo (x10 ¹⁸ Nm/s)","titleFontSize":26,"titleX":-70,"titleY":687}}}},
{"data":{"values":[{"t":34.11,"t2":45,"m":0}]},"mark":{"type":"rule","color":"#444","strokeWidth":1},"encoding":{"x":{"field":"t","type":"quantitative","axis":null},"x2":{"field":"t2"},"y":{"field":"m","type":"quantitative","axis":null}}},
{"data":{"values":[{"t":14.5,"m":0,"m2":1.71}]},"mark":{"type":"rule","color":"#e8101c","strokeWidth":2},"encoding":{"x":{"field":"t","type":"quantitative","axis":null},"y":{"field":"m","type":"quantitative","axis":null},"y2":{"field":"m2"}}},
{"data":{"values":[{"t":22.96,"m":6.07,"s":"M"},{"t":25.47,"m":6.07,"s":"= 8.69 x 10"},{"t":35.53,"m":6.07,"s":"Nm"},{"t":22.96,"m":5.03,"s":"M"},{"t":25.63,"m":5.03,"s":"= 7.23"},{"t":29.87,"m":1.85,"s":"T"},{"t":31.99,"m":1.85,"s":"= 34 s"},{"t":10.94,"m":2.35,"s":"T"},{"t":13.06,"m":2.35,"s":"= 14.5 s"}]},"mark":{"type":"text","fontSize":21.5,"align":"left"},"encoding":{"x":{"field":"t","type":"quantitative","axis":null},"y":{"field":"m","type":"quantitative","axis":null},"text":{"field":"s"}}},
{"data":{"values":[{"t":24.38,"m":5.82,"s":"0"},{"t":33.96,"m":6.25,"s":"19"},{"t":24.38,"m":4.81,"s":"w"},{"t":30.89,"m":1.6,"s":"d"},{"t":11.96,"m":2.04,"s":"c"}]},"mark":{"type":"text","fontSize":14,"align":"left"},"encoding":{"x":{"field":"t","type":"quantitative","axis":null},"y":{"field":"m","type":"quantitative","axis":null},"text":{"field":"s"}}},
{"data":{"values":[{"t":-7.28,"m":0.93}]},"mark":{"type":"point","filled":true,"color":"#000","size":64,"opacity":1},"encoding":{"x":{"field":"t","type":"quantitative","axis":null},"y":{"field":"m","type":"quantitative","axis":null}}},
{"data":{"values":[{"t":-4.93,"m":8.55,"s":"(b)"}]},"mark":{"type":"text","fontSize":24,"align":"center"},"encoding":{"x":{"field":"t","type":"quantitative","axis":null},"y":{"field":"m","type":"quantitative","axis":null},"text":{"field":"s"}}}
]},
{"encoding":{"x":{"field":"x","type":"quantitative","axis":null,"scale":{"domain":[-1,1],"range":[726,882],"nice":false,"zero":false}},"y":{"field":"y","type":"quantitative","axis":null,"scale":{"domain":[-1,1],"range":[671,515],"nice":false,"zero":false}}},"layer":[
{"data":{"values":[{"x":0,"y":0}]},"mark":{"type":"point","filled":true,"opacity":1,"size":24336,"fill":{"gradient":"linear","x1":0,"y1":0,"x2":1,"y2":1,"stops":[{"offset":0.14,"color":"#fff0f0"},{"offset":0.3,"color":"#ffb0b0"},{"offset":0.5,"color":"#ffffff"},{"offset":0.7,"color":"#b0c0ff"},{"offset":0.86,"color":"#e8ecff"}]}}},
{"data":{"values":[{"x":-0.31,"y":0.23}]},"mark":{"type":"point","opacity":1,"filled":true,"size":10000,"fill":{"gradient":"radial","x1":0.5,"y1":0.5,"r1":0,"x2":0.5,"y2":0.5,"r2":0.5,"stops":[{"offset":0,"color":"rgba(255,0,0,1)"},{"offset":0.3,"color":"rgba(255,0,0,1)"},{"offset":1,"color":"rgba(255,60,60,0)"}]}}},
{"data":{"values":[{"x":0.55,"y":-0.2},{"x":0.22,"y":-0.58}]},"mark":{"type":"point","opacity":1,"filled":true,"size":2704,"fill":{"gradient":"radial","x1":0.5,"y1":0.5,"r1":0,"x2":0.5,"y2":0.5,"r2":0.5,"stops":[{"offset":0,"color":"rgba(40,80,255,0.7)"},{"offset":1,"color":"rgba(80,110,255,0)"}]}}},
{"data":{"values":[{"x":0.42,"y":-0.38}]},"mark":{"type":"point","opacity":1,"filled":true,"size":7056,"fill":{"gradient":"radial","x1":0.5,"y1":0.5,"r1":0,"x2":0.5,"y2":0.5,"r2":0.5,"stops":[{"offset":0,"color":"rgba(0,50,255,1)"},{"offset":0.35,"color":"rgba(0,50,255,1)"},{"offset":1,"color":"rgba(60,100,255,0)"}]}}},
{"data":{"values":[{"x":0,"y":0}]},"mark":{"type":"point","filled":false,"stroke":"#000","strokeWidth":1.5,"opacity":1,"size":24336}},
{"data":{"name":"ticks"},"mark":{"type":"rule","color":"#000","strokeWidth":1.2},"encoding":{"x2":{"field":"x2"},"y2":{"field":"y2"}}},
{"data":{"name":"pobs"},"mark":{"type":"point","filled":false,"stroke":"#fff","strokeWidth":3.5,"opacity":1,"size":49}},
{"data":{"name":"pobs"},"mark":{"type":"point","filled":false,"stroke":"#10e8f0","strokeWidth":2,"opacity":1,"size":49}},
{"data":{"values":[{"x":-1.24,"y":0,"t":"P"}]},"mark":{"type":"text","fontSize":28,"align":"center"},"encoding":{"text":{"field":"t"}}},
{"data":{"values":[{"x":-1.18,"y":0.85,"t":"(c)"}]},"mark":{"type":"text","fontSize":24,"align":"center"},"encoding":{"text":{"field":"t"}}}
]},
{"encoding":{"x":{"field":"x","type":"quantitative","axis":null,"scale":{"domain":[-1,1],"range":[728,884],"nice":false,"zero":false}},"y":{"field":"y","type":"quantitative","axis":null,"scale":{"domain":[-1,1],"range":[849,693],"nice":false,"zero":false}}},"layer":[
{"data":{"values":[{"x":0,"y":0}]},"mark":{"type":"point","filled":true,"opacity":1,"size":24336,"fill":{"gradient":"linear","x1":0,"y1":1,"x2":1,"y2":0,"stops":[{"offset":0.14,"color":"#fff0f0"},{"offset":0.3,"color":"#ffb0b0"},{"offset":0.5,"color":"#ffffff"},{"offset":0.7,"color":"#b0c0ff"},{"offset":0.86,"color":"#f0f2ff"}]}}},
{"data":{"values":[{"x":-0.45,"y":-0.35},{"x":0.05,"y":-0.55}]},"mark":{"type":"point","opacity":1,"filled":true,"size":3600,"fill":{"gradient":"radial","x1":0.5,"y1":0.5,"r1":0,"x2":0.5,"y2":0.5,"r2":0.5,"stops":[{"offset":0,"color":"rgba(255,70,70,0.4)"},{"offset":1,"color":"rgba(255,110,110,0)"}]}}},
{"data":{"values":[{"x":-0.2,"y":-0.22}]},"mark":{"type":"point","opacity":1,"filled":true,"size":12100,"fill":{"gradient":"radial","x1":0.5,"y1":0.5,"r1":0,"x2":0.5,"y2":0.5,"r2":0.5,"stops":[{"offset":0,"color":"rgba(255,0,0,1)"},{"offset":0.15,"color":"rgba(255,20,20,0.95)"},{"offset":1,"color":"rgba(255,100,100,0)"}]}}},
{"data":{"values":[{"x":0.45,"y":0.35},{"x":-0.05,"y":0.6}]},"mark":{"type":"point","opacity":1,"filled":true,"size":3600,"fill":{"gradient":"radial","x1":0.5,"y1":0.5,"r1":0,"x2":0.5,"y2":0.5,"r2":0.5,"stops":[{"offset":0,"color":"rgba(70,100,255,0.4)"},{"offset":1,"color":"rgba(110,130,255,0)"}]}}},
{"data":{"values":[{"x":0.3,"y":0.25}]},"mark":{"type":"point","opacity":1,"filled":true,"size":12100,"fill":{"gradient":"radial","x1":0.5,"y1":0.5,"r1":0,"x2":0.5,"y2":0.5,"r2":0.5,"stops":[{"offset":0,"color":"rgba(0,50,255,1)"},{"offset":0.15,"color":"rgba(30,70,255,0.95)"},{"offset":1,"color":"rgba(100,130,255,0)"}]}}},
{"data":{"values":[{"x":-0.08,"y":-0.07}]},"mark":{"type":"point","opacity":1,"filled":true,"size":576,"fill":{"gradient":"radial","x1":0.5,"y1":0.5,"r1":0,"x2":0.5,"y2":0.5,"r2":0.5,"stops":[{"offset":0,"color":"rgba(240,0,0,1)"},{"offset":1,"color":"rgba(255,0,0,0)"}]}}},
{"data":{"values":[{"x":0.07,"y":0.06}]},"mark":{"type":"point","opacity":1,"filled":true,"size":576,"fill":{"gradient":"radial","x1":0.5,"y1":0.5,"r1":0,"x2":0.5,"y2":0.5,"r2":0.5,"stops":[{"offset":0,"color":"rgba(0,30,230,1)"},{"offset":1,"color":"rgba(0,30,255,0)"}]}}},
{"data":{"values":[{"x":0,"y":0}]},"mark":{"type":"point","filled":false,"stroke":"#000","strokeWidth":1.5,"opacity":1,"size":24336}},
{"data":{"name":"ticks"},"mark":{"type":"rule","color":"#000","strokeWidth":1.2},"encoding":{"x2":{"field":"x2"},"y2":{"field":"y2"}}},
{"data":{"name":"shobs"},"mark":{"type":"point","filled":false,"stroke":"#fff","strokeWidth":3.5,"opacity":1,"size":49}},
{"data":{"name":"shobs"},"mark":{"type":"point","filled":false,"stroke":"#10e8f0","strokeWidth":2,"opacity":1,"size":49}},
{"data":{"values":[{"x":-1.24,"y":-0.09,"t":"SH"}]},"mark":{"type":"text","fontSize":28,"align":"center"},"encoding":{"text":{"field":"t"}}},
{"data":{"values":[{"x":0,"y":-1.31,"t":"Strike 235°, Dip 7.5°"}]},"mark":{"type":"text","fontSize":25,"align":"center"},"encoding":{"text":{"field":"t"}}}
]}
]}
